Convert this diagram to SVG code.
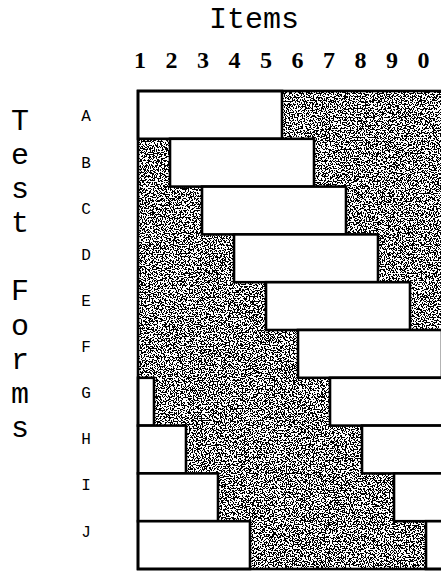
<svg xmlns="http://www.w3.org/2000/svg" width="441" height="571" viewBox="0 0 441 571">
<style>
.mono{font-family:"Liberation Mono","Courier New",monospace;fill:#000}
.title{font-size:30px}
.lbl{font-size:16px;text-anchor:middle}
.dig{font-family:"Liberation Serif","Times New Roman",serif;font-weight:bold;font-size:24px;text-anchor:middle;fill:#000}
.box{fill:#fff;stroke:#000;stroke-width:2.6}
.frame{fill:none;stroke:#000;stroke-width:2.6}
</style>
<defs>
<filter id="stip" x="0" y="0" width="1" height="1" color-interpolation-filters="sRGB">
<feTurbulence type="fractalNoise" baseFrequency="0.75" numOctaves="2" seed="7" result="n"/>
<feColorMatrix in="n" type="matrix" values="1 0 0 0 0  1 0 0 0 0  1 0 0 0 0  0 0 0 0 1" result="g"/>
<feComponentTransfer in="g">
<feFuncR type="discrete" tableValues="0 1"/>
<feFuncG type="discrete" tableValues="0 1"/>
<feFuncB type="discrete" tableValues="0 1"/>
</feComponentTransfer>
</filter>
</defs>
<rect width="441" height="571" fill="#fff"/>

<g id="header">
<text class="mono title" x="254" y="28" text-anchor="middle">Items</text>
<g id="item-numbers">
<text class="dig" x="140" y="68">1</text>
<text class="dig" x="171.5" y="68">2</text>
<text class="dig" x="203" y="68">3</text>
<text class="dig" x="234.5" y="68">4</text>
<text class="dig" x="266" y="68">5</text>
<text class="dig" x="297.5" y="68">6</text>
<text class="dig" x="329" y="68">7</text>
<text class="dig" x="360.5" y="68">8</text>
<text class="dig" x="392" y="68">9</text>
<text class="dig" x="423.5" y="68">0</text>
</g>
</g>

<g id="axis-title" class="mono title" text-anchor="middle">
<text x="20" y="130">T</text>
<text x="20" y="164">e</text>
<text x="20" y="198">s</text>
<text x="20" y="232">t</text>
<text x="20" y="300">F</text>
<text x="20" y="335">o</text>
<text x="20" y="369">r</text>
<text x="20" y="403">m</text>
<text x="20" y="437">s</text>
</g>

<g id="background">
<rect x="138" y="91" width="320" height="478" fill="#fff" filter="url(#stip)"/>
</g>

<g id="row-A"><text class="mono lbl" x="86" y="121">A</text><rect class="box" x="138" y="91" width="144" height="47.8"/></g>
<g id="row-B"><text class="mono lbl" x="86" y="168">B</text><rect class="box" x="170" y="138.8" width="144" height="47.8"/></g>
<g id="row-C"><text class="mono lbl" x="86" y="214">C</text><rect class="box" x="202" y="186.6" width="144" height="47.8"/></g>
<g id="row-D"><text class="mono lbl" x="86" y="260">D</text><rect class="box" x="234" y="234.4" width="144" height="47.8"/></g>
<g id="row-E"><text class="mono lbl" x="86" y="306">E</text><rect class="box" x="266" y="282.2" width="144" height="47.8"/></g>
<g id="row-F"><text class="mono lbl" x="86" y="352">F</text><rect class="box" x="298" y="330" width="144" height="47.8"/></g>
<g id="row-G"><text class="mono lbl" x="86" y="398">G</text><rect class="box" x="330" y="377.8" width="144" height="47.8"/><rect class="box" x="138" y="377.8" width="16" height="47.8"/></g>
<g id="row-H"><text class="mono lbl" x="86" y="444">H</text><rect class="box" x="362" y="425.6" width="144" height="47.8"/><rect class="box" x="138" y="425.6" width="48" height="47.8"/></g>
<g id="row-I"><text class="mono lbl" x="86" y="490">I</text><rect class="box" x="394" y="473.4" width="144" height="47.8"/><rect class="box" x="138" y="473.4" width="80" height="47.8"/></g>
<g id="row-J"><text class="mono lbl" x="86" y="537">J</text><rect class="box" x="426" y="521.2" width="144" height="47.8"/><rect class="box" x="138" y="521.2" width="112" height="47.8"/></g>

<g id="frame"><rect class="frame" x="138" y="91" width="320" height="478"/></g>
</svg>
